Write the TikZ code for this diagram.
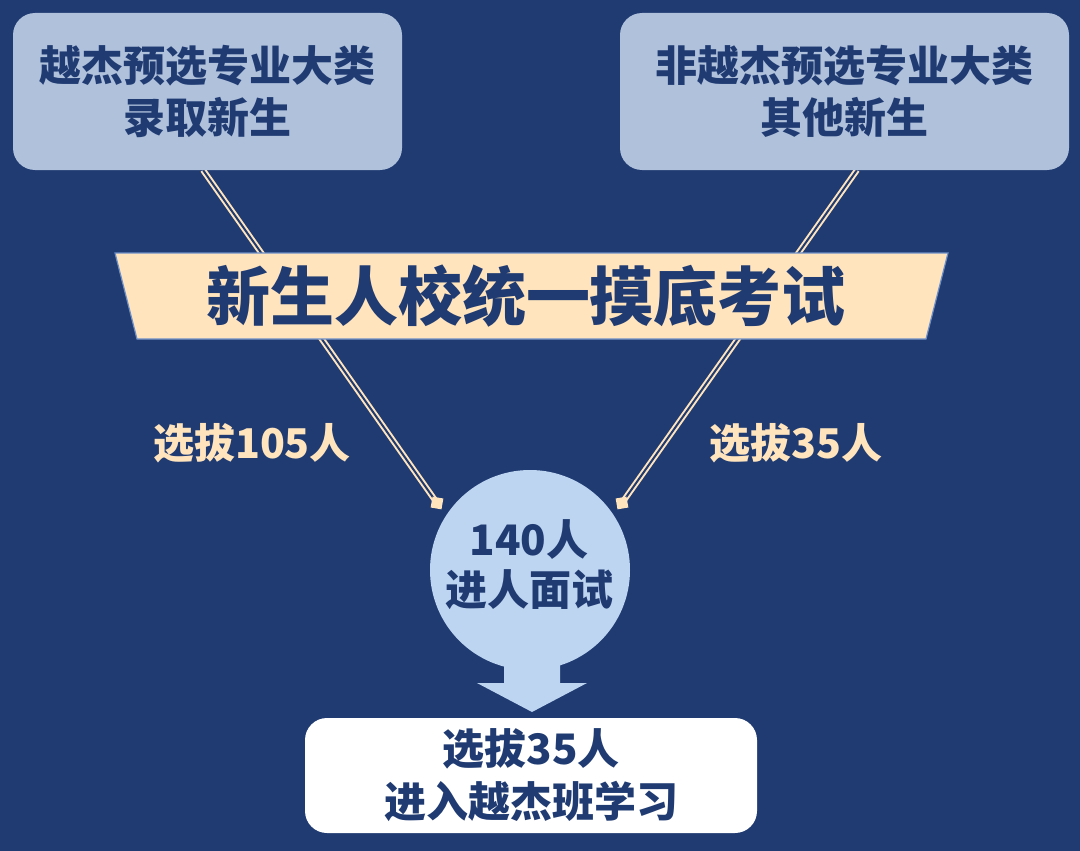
\documentclass[tikz,border=0pt]{standalone}
\usepackage{fontspec}
\setmainfont{Noto Sans CJK SC}
\usetikzlibrary{positioning}
\definecolor{navy}{RGB}{31,59,114}
\definecolor{greyblue}{RGB}{176,193,220}
\definecolor{peach}{RGB}{255,228,189}
\definecolor{paleblue}{RGB}{190,213,242}
\definecolor{rimblue}{RGB}{110,143,200}
\begin{document}
\begin{tikzpicture}[x=1pt, y=-1pt, align=center,
	topbox/.style={rectangle, rounded corners=22pt, fill=greyblue, text=navy, font=\fontsize{42}{52}\selectfont\bfseries, inner sep=0pt},
	endbox/.style={rectangle, rounded corners=22pt, fill=white, text=navy, font=\fontsize{42}{53}\selectfont\bfseries, inner sep=0pt, minimum width=452pt, minimum height=115pt},
	rope/.style={draw=peach, line width=2pt, double=navy, double distance=2pt},
	knot/.style={rectangle, fill=peach, minimum size=11pt, inner sep=0pt, sloped, rotate=45},
	countlabel/.style={text=peach, font=\fontsize{41}{48}\selectfont\bfseries}]
	\useasboundingbox (0,0) rectangle (1080,851);
	\fill[navy] (0,0) rectangle (1080,851);
	% ropes from the top boxes down to the circle
	\coordinate (lstart) at (203,170);
	\coordinate (ltip) at (437,503);
	\coordinate (rstart) at (857,170);
	\coordinate (rtip) at (622,503);
	\draw[rope] (lstart) -- (ltip) node[knot, pos=1] {};
	\draw[rope] (rstart) -- (rtip) node[knot, pos=1] {};
	\node[topbox, minimum width=389pt, minimum height=157pt] (chosen) at (207.5,91.5) {越杰预选专业大类\\录取新生};
	\node[topbox, minimum width=449pt, minimum height=157pt] (others) at (844.5,91.5) {非越杰预选专业大类\\其他新生};
	% banner
	\draw[fill=peach, draw=rimblue, line width=1.2pt] (115,253) -- (948,253) -- (926,339) -- (137,339) -- cycle;
	\node[text=navy, font=\fontsize{64}{70}\selectfont\bfseries] (exam) at (526,296) {新生人校统一摸底考试};
	\node[countlabel] (leftcount) at (252,443) {选拔105人};
	\node[countlabel] (rightcount) at (796,443) {选拔35人};
	% circle with arrow
	\node[circle, fill=paleblue, minimum size=200pt, inner sep=0pt] (interview) at (530,570) {};
	\fill[paleblue] (504,640) -- (560,640) -- (560,683) -- (587,683) -- (532,712) -- (477,683) -- (504,683) -- cycle;
	\node[text=navy, font=\fontsize{42}{50}\selectfont\bfseries] at (529,565) {140人\\进人面试};
	\node[endbox] (final) at (531,775.5) {选拔35人\\进入越杰班学习};
\end{tikzpicture}
\end{document}
